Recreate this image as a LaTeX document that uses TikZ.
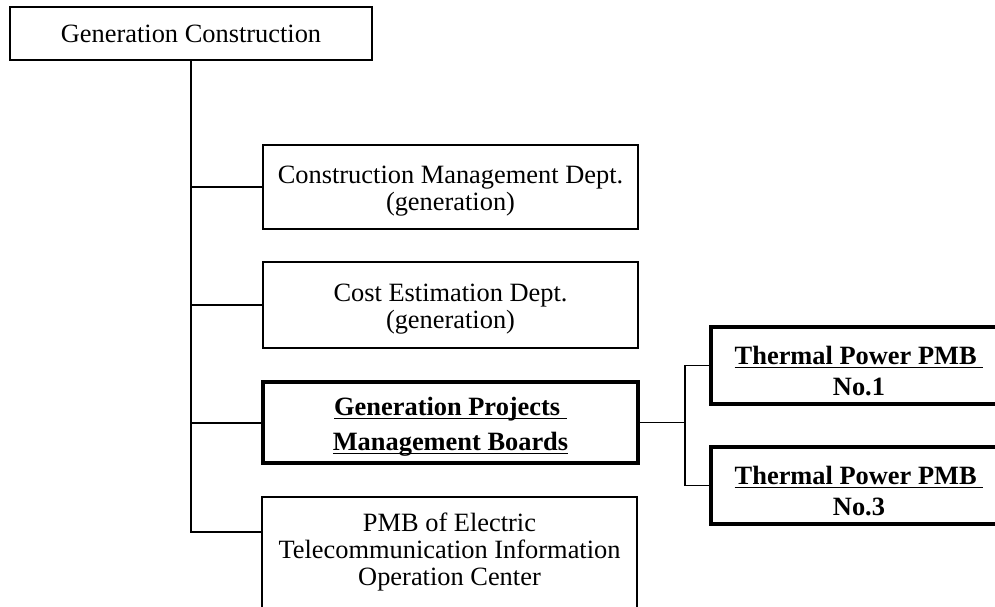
\documentclass[tikz,border=0pt]{standalone}
\usepackage{fontspec}
\setmainfont{Liberation Serif}
\usetikzlibrary{calc}

\newcommand{\boxfont}{\fontsize{26.4pt}{26.8pt}\selectfont}
% underline at a fixed depth, whatever the letters
\newcommand{\ulbold}[1]{\underline{\raisebox{0pt}[\height][1.5pt]{#1}}}
% extra room above the first line, pushes the text down
\newcommand{\topgap}[1]{\rule{0pt}{#1}}
\tikzstyle{office} = [rectangle, minimum width=375pt, text centered, align=center, draw=black, line width=1.6pt, inner sep=4pt, font=\boxfont]
\tikzstyle{board} = [rectangle, minimum width=375pt, minimum height=81pt, text centered, align=center, draw=black, line width=4pt, inner sep=4pt, font=\boxfont\bfseries]
\tikzstyle{pmb} = [rectangle, minimum width=296pt, minimum height=77pt, text centered, align=center, draw=black, line width=4pt, inner sep=4pt, font=\boxfont\bfseries]
\tikzstyle{conn} = [line width=2pt]
\tikzstyle{subconn} = [line width=1.3pt]

\begin{document}
\begin{tikzpicture}[x=1pt, y=-1pt, node distance=118pt]
                \useasboundingbox (0,0) rectangle (995,606);
                \clip (0,0) rectangle (995,606);

                \node (top) [office, minimum width=362pt, minimum height=53pt] at (191,33.5) {Generation Construction};
                \node (cmd) [office, minimum height=84pt] at (450.5,187) {\topgap{26pt}Construction Management Dept.\\(generation)};
                \node (cost) [office, minimum height=86pt, below of=cmd] {\topgap{26pt}Cost Estimation Dept.\\(generation)};
                \node (gpmb) [board, below of=cost, yshift=0.5pt] {\topgap{24pt}\ulbold{Generation Projects\ }\\[8pt]\ulbold{Management Boards}};
                \node (etic) [office, anchor=north, minimum height=132pt] at (449.5,496) {PMB of Electric\\Telecommunication Information\\Operation Center\\\mbox{}};
                \node (th1) [pmb] at (859,365.5) {\topgap{30pt}\ulbold{Thermal Power PMB\ }\\[4.5pt]No.1};
                \node (th3) [pmb, below of=th1, yshift=-2pt] {\topgap{30pt}\ulbold{Thermal Power PMB\ }\\[4.5pt]No.3};
                \coordinate (etic-in) at ($(etic.north west)+(0,36)$);
                \coordinate (fork) at ($(gpmb.east)+(45,0)$);

                \draw [conn] (top.south) |- (etic-in);
                \draw [conn] (top.south |- cmd.west) -- (cmd.west);
                \draw [conn] (top.south |- cost.west) -- (cost.west);
                \draw [conn] (top.south |- gpmb.west) -- (gpmb.west);
                \draw [subconn] (gpmb.east) -- (fork);
                \draw [subconn] (th1.west) -| (fork) |- (th3.west);
            \end{tikzpicture}
\end{document}
